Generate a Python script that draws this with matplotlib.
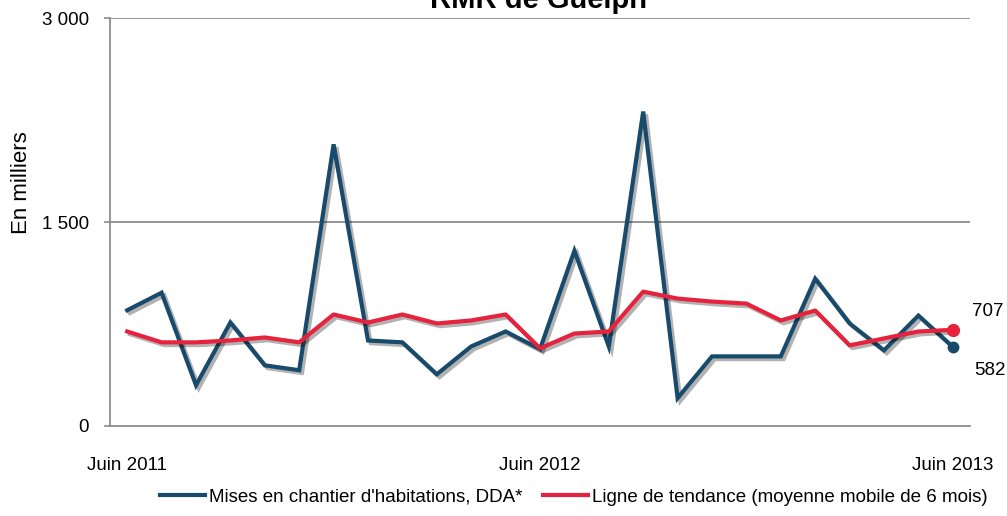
import matplotlib
matplotlib.use("Agg")
import matplotlib.pyplot as plt
import matplotlib.patheffects as pe
from matplotlib.lines import Line2D

plt.rcParams['font.family'] = ['Liberation Sans', 'DejaVu Sans']

# Data (monthly, June 2011 - June 2013)
months = list(range(25))
starts = [851, 980, 300, 761, 446, 410, 2071, 629, 615, 380, 585, 695, 565,
          1288, 585, 2312, 205, 512, 512, 512, 1083, 754, 556, 812, 582]
trend = [695, 615, 615, 629, 651, 615, 820, 761, 820, 754, 776, 820, 571,
         680, 695, 988, 937, 915, 900, 776, 849, 593, 644, 695, 707]
x_tick_pos = [0, 12, 24]
x_tick_labels = ["Juin 2011", "Juin 2012", "Juin 2013"]
y_ticks = [0, 1500, 3000]
y_tick_labels = ["0", "1 500", "3 000"]
title = "RMR de Guelph"
ylabel = "En milliers"
series_names = ["Mises en chantier d'habitations, DDA*",
                "Ligne de tendance (moyenne mobile de 6 mois)"]

BLUE = '#174a6b'
RED = '#e6223c'
GRID = '#8e8e8e'

fig = plt.figure(figsize=(10.07, 5.16), dpi=100)
ax = fig.add_axes([110/1007, 1-426/516, 860/1007, 408/516])

shadow = [pe.SimpleLineShadow(offset=(2, -2), shadow_color='black', alpha=0.3),
          pe.Normal()]
ax.plot(months, starts, color=BLUE, lw=3.0, solid_joinstyle='miter',
        path_effects=shadow, zorder=3)
ax.plot(months, trend, color=RED, lw=3.0, path_effects=shadow, zorder=4)
ax.plot(months[-1], starts[-1], 'o', color=BLUE, ms=7.5, zorder=3)
ax.plot(months[-1], trend[-1], 'o', color=RED, ms=8.5, zorder=4)

ax.annotate(str(trend[-1]), (months[-1], trend[-1]), xytext=(25, 13),
            textcoords='offset points', fontsize=13.5, ha='center', va='center')
ax.annotate(str(starts[-1]), (months[-1], starts[-1]), xytext=(27, -17),
            textcoords='offset points', fontsize=13.5, ha='center', va='center')

ax.set_xlim(-0.5, 24.5)
ax.set_ylim(0, 3000)
ax.set_yticks(y_ticks)
ax.set_yticklabels(y_tick_labels, fontsize=13.5)
ax.set_xticks(x_tick_pos)
ax.set_xticklabels(x_tick_labels, fontsize=13.5)
ax.tick_params(axis='x', length=0, pad=22)
ax.tick_params(axis='y', length=4, width=1.2, color=GRID, pad=11)

for v in y_ticks[1:]:
    ax.axhline(v, color=GRID, lw=1.3, zorder=1)
for s in ['top', 'right']:
    ax.spines[s].set_visible(False)
for s in ['left', 'bottom']:
    ax.spines[s].set_color(GRID)
    ax.spines[s].set_linewidth(1.3)

fig.text(22/1007, 1-183/516, ylabel, rotation=90, fontsize=16,
         ha='center', va='center')
fig.text(538/1007, 1-8/516, title, fontsize=21, fontweight='bold',
         ha='center', va='baseline')

handles = [Line2D([], [], color=BLUE, lw=3.0),
           Line2D([], [], color=RED, lw=3.0)]
fig.legend(handles, series_names, loc='center', bbox_to_anchor=(574/1007, 1-497/516),
           ncol=2, frameon=False, fontsize=13.5, handlelength=2.4,
           handletextpad=0.2, columnspacing=1.1, borderpad=0, borderaxespad=0)

fig.savefig('out.png', dpi=100)
